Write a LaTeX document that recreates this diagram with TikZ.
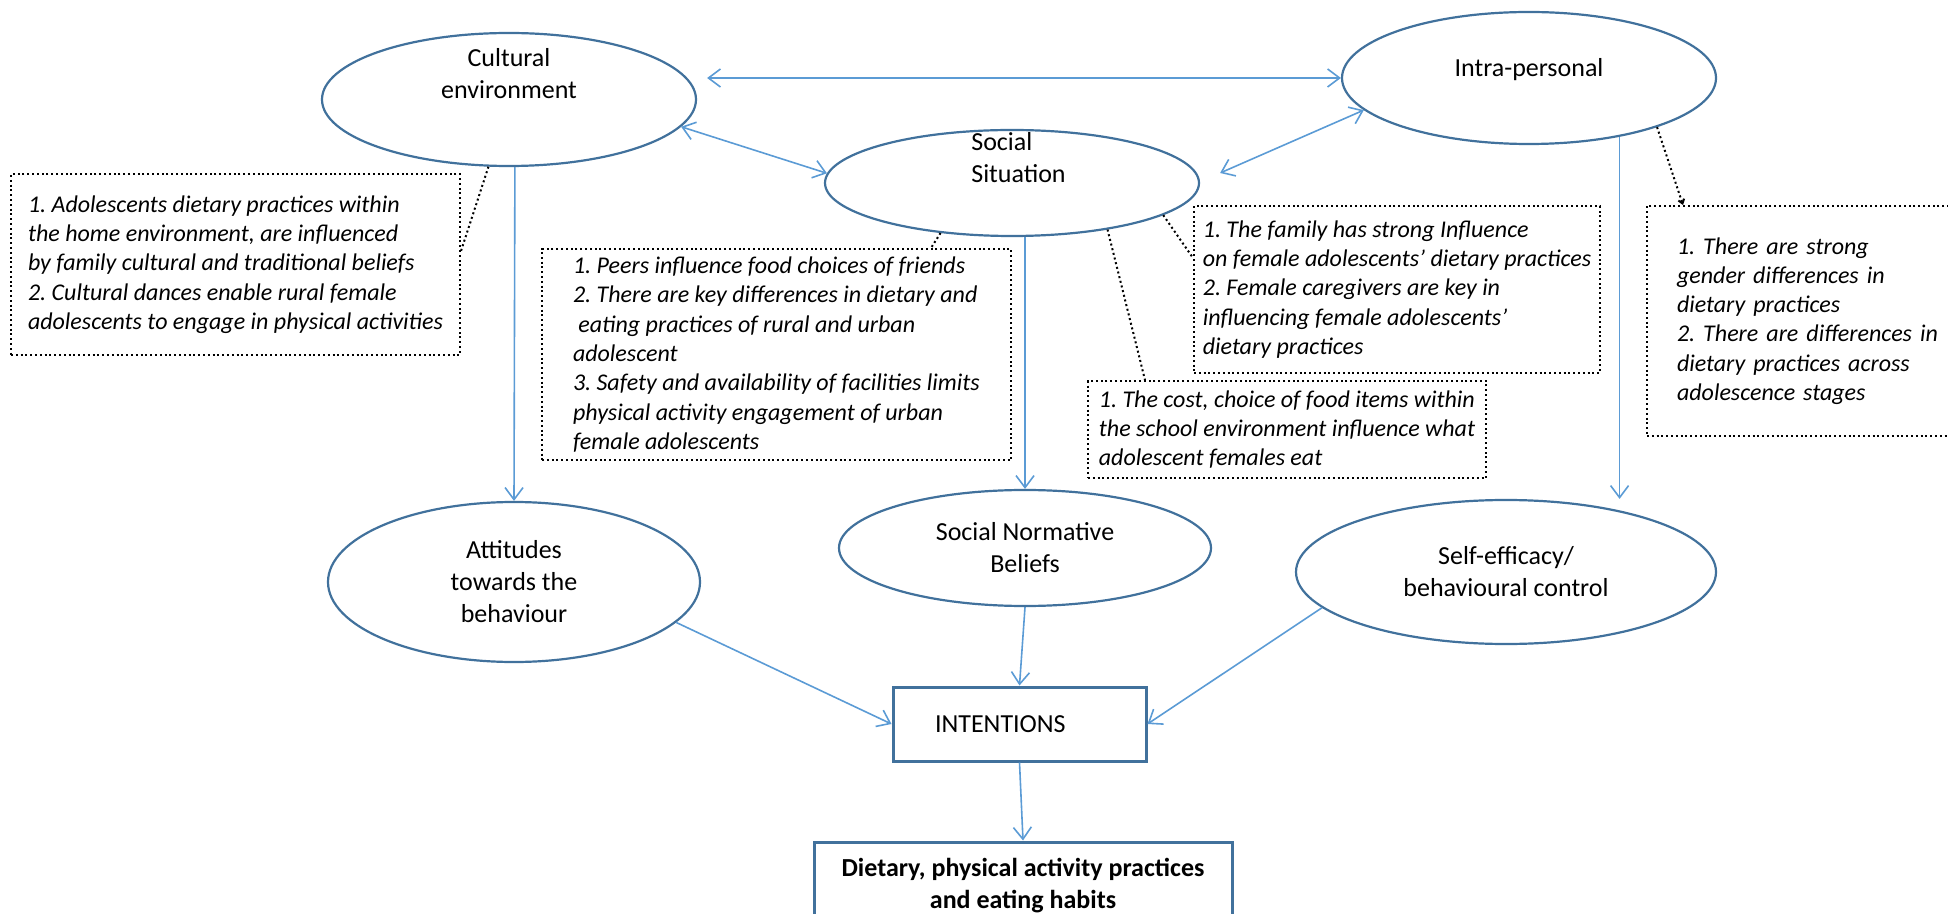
\documentclass[tikz,border=0pt]{standalone}
\usepackage{fontspec}
\setmainfont{Carlito}
\usetikzlibrary{arrows.meta,shapes.geometric}
\definecolor{lineblue}{HTML}{5B9BD5}
\definecolor{edgeblue}{HTML}{41719C}
\begin{document}
\begin{tikzpicture}[x=0.5pt,y=-0.5pt,
        ell/.style={ellipse,draw=edgeblue,line width=1.1pt,inner sep=0pt,align=center,font=\fontsize{13}{16}\selectfont},
        lbl/.style={align=center,font=\fontsize{13}{16}\selectfont},
        blk/.style={rectangle,draw=edgeblue,line width=1.5pt,inner sep=0pt,font=\fontsize{13}{16}\selectfont},
        note/.style={draw,line width=1pt,dash pattern=on 1pt off 1.4pt,align=left,anchor=north west,inner sep=0pt,font=\fontsize{12}{14.65}\selectfont\itshape\frenchspacing},
        flow/.style={draw=lineblue,line width=0.8pt,-{Straight Barb[length=6pt,width=9pt]}},
        both/.style={flow,{Straight Barb[length=6pt,width=9pt]}-{Straight Barb[length=6pt,width=9pt]}},
        link/.style={line width=1pt,dash pattern=on 1pt off 1.4pt}]
        \useasboundingbox (0,0) rectangle (1948,914);
        \node[ell,minimum width=187pt,minimum height=66.5pt,label={[lbl,yshift=12.75pt]center:{Cultural\\environment}}] (ce) at (509,99.5) {};
        \node[ell,minimum width=187pt,minimum height=53pt,label={[lbl,align=left,xshift=3.25pt,yshift=12.75pt]center:{Social\\Situation}}] (ss) at (1012,183) {};
        \node[ell,minimum width=187pt,minimum height=66pt,label={[lbl,yshift=4pt]center:Intra-personal}] (ip) at (1529,78) {};
        \node[ell,minimum width=186pt,minimum height=80pt] (att) at (514,582) {Attitudes\\towards the\\behaviour};
        \node[ell,minimum width=186pt,minimum height=58pt] (sn) at (1025,548) {Social Normative\\Beliefs};
        \node[ell,minimum width=210pt,minimum height=72pt] (se) at (1506,572) {Self-efficacy/\\behavioural control};
        \node[blk,minimum width=126.5pt,minimum height=37pt,text width=84.5pt,inner xsep=21pt,align=left] (int) at (1019.5,724) {INTENTIONS};
        \node[blk,minimum width=209pt,minimum height=44pt,align=center,font=\bfseries\fontsize{13}{16}\selectfont] (diet) at (1023,886) {Dietary, physical activity practices\\and eating habits};
        \node[note,minimum width=224.5pt,minimum height=90.5pt] (notecult) at (10,173) {1. Adolescents dietary practices within\\the home environment, are influenced\\by family cultural and traditional beliefs\\2. Cultural dances enable rural female\\adolescents to engage in physical activities};
        \node[note,minimum width=234.5pt,minimum height=105.5pt] (notepeer) at (541,248) {1. Peers influence food choices of friends\\2. There are key differences in dietary and\\\ eating practices of rural and urban\\adolescent\\3. Safety and availability of facilities limits\\physical activity engagement of urban\\female adolescents};
        \node[note,minimum width=203pt,minimum height=83.5pt] (notefam) at (1193,205) {1. The family has strong Influence\\on female adolescents’ dietary practices\\2. Female caregivers are key in\\influencing female adolescents’\\dietary practices};
        \node[note,minimum width=199pt,minimum height=48.5pt] (notecost) at (1087,380) {1. The cost, choice of food items within\\the school environment influence what\\adolescent females eat};
        \node[note,minimum height=115pt,text width=150pt,inner xsep=15pt] (noteip) at (1646,205) {1. There are strong\\gender differences in\\dietary practices\\2. There are differences in\\dietary practices across\\adolescence stages};
        \draw[flow] (ce.-85) -- (att.north);
        \draw[flow] (sn.north |- ss.south) -- (sn.north);
        \draw[flow] (ip.-33) -- (ip.-33 |- se.north);
        \draw[flow] (att.-14) -- (int.west);
        \draw[flow] (sn.south) -- (int.north);
        \draw[flow] (se.191) -- (int.east);
        \draw[flow] (int.south) -- (diet.north);
        \draw[both,shorten <=5pt] (ip.west -| ce.east) -- (ip.west);
        \draw[both] (ce.-9) -- (ss.177);
        \draw[both] ([xshift=10pt,yshift=5pt]ss.east) -- (ip.191);
        \draw[link] (ce.-107) -- ([yshift=6.75pt]notecult.east);
        \draw[link] (ss.-145) -- ([xshift=195pt]notepeer.north west);
        \draw[link] (ss.-12) -- ([yshift=15.75pt]notefam.west);
        \draw[link] (ss.-26) -- ([xshift=29pt]notecost.north west);
        \draw[link,-{Straight Barb[length=2pt,width=3pt]}] (ip.-21) -- ([xshift=18.5pt]noteip.north west);
\end{tikzpicture}
\end{document}
